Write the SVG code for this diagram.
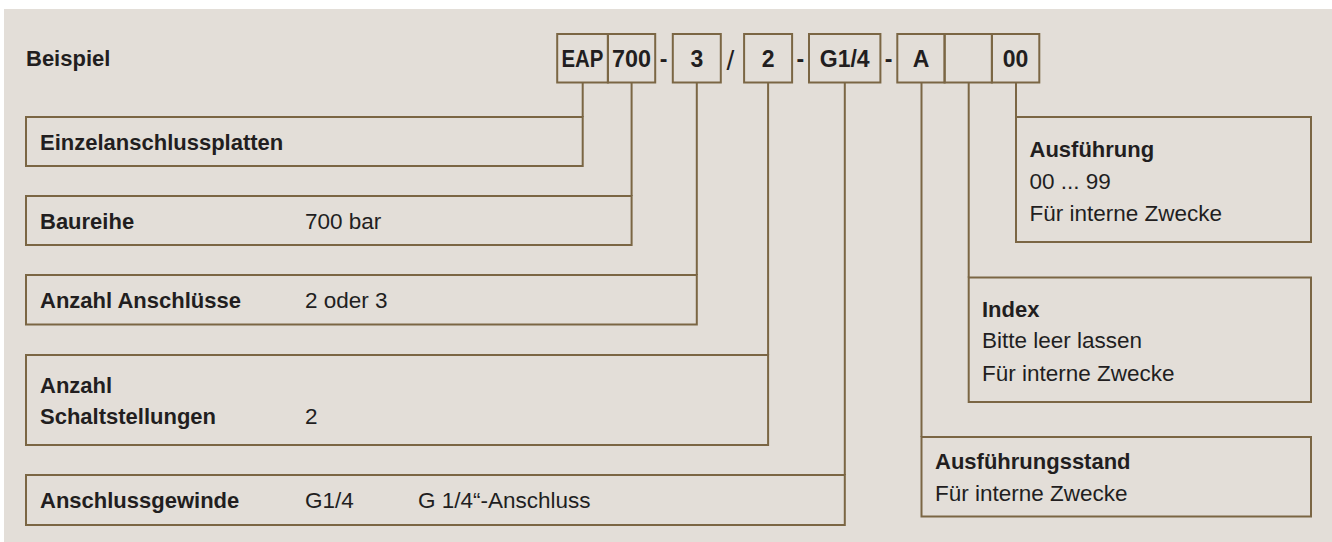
<svg xmlns="http://www.w3.org/2000/svg" width="1332" height="542" viewBox="0 0 1332 542">
<style>
.bg{fill:#e3ded8}
.box{fill:none;stroke:#7b6644;stroke-width:2}
.ln{fill:none;stroke:#7b6644;stroke-width:2}
text{font-family:"Liberation Sans",Arial,sans-serif;fill:#221e1f}
.b{font-weight:bold;font-size:22px}
.r{font-size:22.5px}
.code{font-weight:bold;font-size:23px;text-anchor:middle}
</style>
<rect width="1332" height="542" fill="#ffffff"/>
<rect class="bg" x="4" y="9" width="1328" height="533"/>
<text class="b" x="26" y="66">Beispiel</text>
<g id="code">
<rect class="box" x="557.2" y="34" width="50.7" height="48.5"/>
<text class="code" x="582.5" y="66.7" textLength="42" lengthAdjust="spacingAndGlyphs">EAP</text>
<rect class="box" x="607.9" y="34" width="47.3" height="48.5"/>
<text class="code" x="631.5" y="66.7" textLength="39" lengthAdjust="spacingAndGlyphs">700</text>
<text class="code" x="663.7" y="66.7">-</text>
<rect class="box" x="672.8" y="34" width="48" height="48.5"/>
<text class="code" x="696.8" y="66.7">3</text>
<text class="code" x="730.5" y="70" style="font-size:28px;font-weight:normal">/</text>
<rect class="box" x="744.1" y="34" width="48" height="48.5"/>
<text class="code" x="768.1" y="66.7">2</text>
<text class="code" x="800.3" y="66.7">-</text>
<rect class="box" x="809" y="34" width="71.4" height="48.5"/>
<text class="code" x="844.7" y="66.7">G1/4</text>
<text class="code" x="888.5" y="66.7">-</text>
<rect class="box" x="897.3" y="34" width="47.3" height="48.5"/>
<text class="code" x="921" y="66.7">A</text>
<rect class="box" x="944.6" y="34" width="47.3" height="48.5"/>
<rect class="box" x="991.9" y="34" width="47.4" height="48.5"/>
<text class="code" x="1015.6" y="66.7">00</text>
</g>
<g id="connectors">
<path class="ln" d="M582.7 82.5V117M631.6 82.5V196M696.8 82.5V275M768.1 82.5V355M844.8 82.5V475M921.5 82.5V437M968.7 82.5V277.5M1016 82.5V117"/>
</g>
<g id="einzel">
<rect class="box" x="26" y="117" width="556.7" height="49"/>
<text class="b" x="40" y="150">Einzelanschlussplatten</text>
</g>
<g id="baureihe">
<rect class="box" x="26" y="196" width="605.6" height="49"/>
<text class="b" x="40" y="229">Baureihe</text>
<text class="r" x="305" y="229">700 bar</text>
</g>
<g id="anschluesse">
<rect class="box" x="26" y="275" width="670.8" height="49.5"/>
<text class="b" x="40" y="308">Anzahl Anschlüsse</text>
<text class="r" x="305" y="308">2 oder 3</text>
</g>
<g id="schaltstellungen">
<rect class="box" x="26" y="355" width="742.1" height="90"/>
<text class="b" x="40" y="392.5">Anzahl</text>
<text class="b" x="40" y="424">Schaltstellungen</text>
<text class="r" x="305" y="424">2</text>
</g>
<g id="gewinde">
<rect class="box" x="26" y="475" width="818.8" height="50"/>
<text class="b" x="40" y="508">Anschlussgewinde</text>
<text class="r" x="305" y="508">G1/4</text>
<text class="r" x="418" y="508">G 1/4“-Anschluss</text>
</g>
<g id="ausfuehrung">
<rect class="box" x="1016" y="117" width="295" height="125"/>
<text class="b" x="1029.5" y="156.7">Ausführung</text>
<text class="r" x="1029.5" y="188.7">00 ... 99</text>
<text class="r" x="1029.5" y="220.7">Für interne Zwecke</text>
</g>
<g id="index">
<rect class="box" x="968.7" y="277.5" width="342.3" height="124.5"/>
<text class="b" x="982" y="316.7">Index</text>
<text class="r" x="982" y="348.3">Bitte leer lassen</text>
<text class="r" x="982" y="380.7">Für interne Zwecke</text>
</g>
<g id="stand">
<rect class="box" x="921.5" y="437" width="389.5" height="79.5"/>
<text class="b" x="935" y="469">Ausführungsstand</text>
<text class="r" x="935" y="500.7">Für interne Zwecke</text>
</g>
</svg>
